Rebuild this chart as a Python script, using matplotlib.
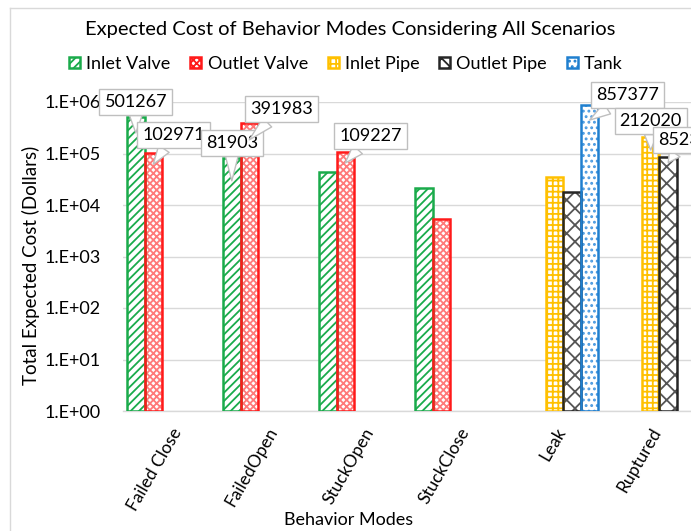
import matplotlib
matplotlib.use("Agg")
import matplotlib.pyplot as plt
import numpy as np
from matplotlib.lines import Line2D

plt.rcParams['font.family'] = ['Lato', 'DejaVu Sans']

categories = ["Failed Close", "FailedOpen", "StuckOpen", "StuckClose", "Leak", "Ruptured"]
series_names = ["Inlet Valve", "Outlet Valve", "Inlet Pipe", "Outlet Pipe", "Tank"]
inlet_valve = [501267, 81903, 44000, 21500, np.nan, np.nan]
outlet_valve = [102971, 391983, 109227, 5400, np.nan, np.nan]
inlet_pipe = [np.nan, np.nan, np.nan, np.nan, 35000, 212020]
outlet_pipe = [np.nan, np.nan, np.nan, np.nan, 18000, 85230]
tank = [np.nan, np.nan, np.nan, np.nan, 857377, np.nan]
yticks = [1e0, 1e1, 1e2, 1e3, 1e4, 1e5, 1e6]
ytick_labels = ["1.E+00", "1.E+01", "1.E+02", "1.E+03", "1.E+04", "1.E+05", "1.E+06"]

series = [inlet_valve, outlet_valve, inlet_pipe, outlet_pipe, tank]
colors = ["#1aab4b", "#ff1a1a", "#ffc000", "#262626", "#1f7fcf"]
hatch_colors = ["#1aab4b", "#ff7a7a", "#ffc000", "#555555", "#4a9ae0"]
hatches = ["////", "xxxxx", "+++", "xx", "..."]

fig = plt.figure(figsize=(6.91, 5.31), dpi=100)
W, H = 691, 531
left_px, right_px, top_px, bottom_px = 122.75, 698.75, 102, 411
ax = fig.add_axes([left_px / W, 1 - bottom_px / H, (right_px - left_px) / W, (bottom_px - top_px) / H])

x = np.arange(len(categories))
bw = 0.182
plt.rcParams['hatch.linewidth'] = 1.3
bars = []
for k, (vals, c, hc, h) in enumerate(zip(series, colors, hatch_colors, hatches)):
    # hatch layer
    ax.bar(x + (k - 2) * bw, vals, bw, bottom=1, facecolor="white", edgecolor=hc,
           hatch=h, linewidth=0, zorder=3)
    # outline layer
    b = ax.bar(x + (k - 2) * bw, vals, bw, bottom=1, facecolor="none", edgecolor=c,
               linewidth=1.8, zorder=4, label=series_names[k])
    bars.append(b)

ax.set_yscale("log")
ax.set_ylim(1, 1e6)
ax.set_xlim(-0.5, len(categories) - 0.5)
ax.set_yticks(yticks)
ax.set_yticklabels(ytick_labels)
ax.minorticks_off()
ax.tick_params(axis="y", length=0, pad=16, labelsize=13)
ax.tick_params(axis="x", length=0, pad=10, labelsize=12.5)
ax.set_xticks(x)
ax.set_xticklabels(categories, rotation=60, ha="right", va="top", rotation_mode="anchor")
ax.grid(axis="y", color="#d9d9d9", linewidth=1.0, zorder=0)
for s in ["top", "right", "left"]:
    ax.spines[s].set_visible(False)
ax.spines["bottom"].set_color("#d9d9d9")
ax.spines["bottom"].set_linewidth(1.0)

# data callouts: (series index, category index, value, tip factor, dx px, dy px)
callouts = [
    (0, 0, inlet_valve[0], 0.5, 0, 31),
    (1, 0, outlet_valve[0], 0.6, 20, 29),
    (0, 1, inlet_valve[1], 0.36, 0, 38),
    (1, 1, outlet_valve[1], 0.47, 32, 31),
    (1, 2, outlet_valve[2], 0.6, 25, 27),
    (4, 4, tank[4], 0.52, 38, 25),
    (2, 5, inlet_pipe[5], 0.55, 0, 29),
    (3, 5, outlet_pipe[5], 0.78, 16, 23),
]
for k, ci, v, f, dx, dy in callouts:
    xx = x[ci] + (k - 2) * bw
    ax.annotate(f"{int(v)}", xy=(xx, v * f), xytext=(dx, dy), textcoords="offset pixels",
                ha="center", va="center", fontsize=13, zorder=6, annotation_clip=False,
                bbox=dict(boxstyle="square,pad=0.28", fc="white", ec="#bfbfbf", lw=1.0),
                arrowprops=dict(arrowstyle="wedge,tail_width=0.7,shrink_factor=0.5",
                                fc="white", ec="#bfbfbf", lw=1.0, shrinkA=0, shrinkB=0))

ax.set_ylabel("Total Expected Cost (Dollars)", fontsize=13.5)
ax.yaxis.set_label_coords(-(left_px - 40) / (right_px - left_px), 0.47)

fig.text(350 / W, 1 - 30 / H, "Expected Cost of Behavior Modes Considering All Scenarios",
         ha="center", va="center", fontsize=14.5)
fig.text(349 / W, 1 - 520 / H, "Behavior Modes", ha="center", va="center", fontsize=13)

leg = fig.legend(handles=bars, labels=series_names, loc="center", bbox_to_anchor=(346 / W, 1 - 64 / H),
                 ncol=5, frameon=False, fontsize=13, handlelength=0.6, handleheight=0.6,
                 handletextpad=0.35, columnspacing=1.1)
# legend handles: give them the hatch pattern as well
for hnd, c, hc, h in zip(leg.legend_handles, colors, hatch_colors, hatches):
    hnd.set_facecolor("white")
    hnd.set_edgecolor(c)
    hnd.set_hatch(h)
    hnd.set_linewidth(1.8)

# chart area border (left and top visible)
fig.add_artist(Line2D([10 / W, 10 / W], [0, 1 - 8 / H], color="#d9d9d9", lw=1.0))
fig.add_artist(Line2D([10 / W, 1], [1 - 8 / H, 1 - 8 / H], color="#d9d9d9", lw=1.0))

fig.savefig("out.png", dpi=100)
